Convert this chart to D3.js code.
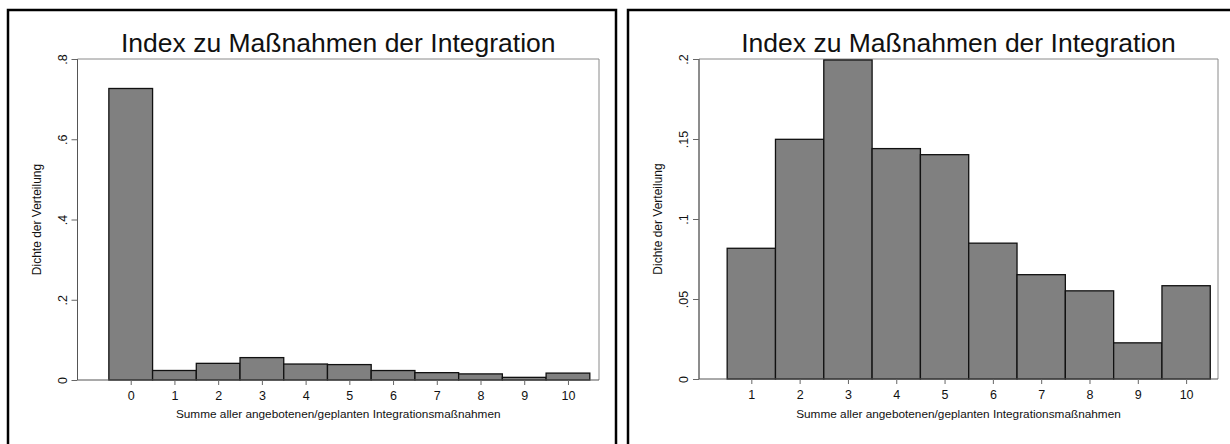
<!DOCTYPE html>
<html><head><meta charset="utf-8">
<script src="https://cdn.jsdelivr.net/npm/d3@7"></script>
<style>body{margin:0;background:#fff}svg{display:block;font-family:"Liberation Sans",Arial,sans-serif}</style>
</head><body><svg id="c" width="1230" height="444"></svg>
<script>
const title = "Index zu Maßnahmen der Integration";
const yTitle = "Dichte der Verteilung";
const xTitle = "Summe aller angebotenen/geplanten Integrationsmaßnahmen";

const leftCats = [0,1,2,3,4,5,6,7,8,9,10];
const leftVals = [0.7265,0.0237,0.0415,0.0558,0.0398,0.0384,0.0236,0.0183,0.0152,0.0066,0.0172];
const leftYTicks = [0,0.2,0.4,0.6,0.8];
const leftYLabels = ["0",".2",".4",".6",".8"];

const rightCats = [1,2,3,4,5,6,7,8,9,10];
const rightVals = [0.0817,0.1498,0.1994,0.1440,0.1402,0.0849,0.0652,0.0551,0.0226,0.0583];
const rightYTicks = [0,0.05,0.1,0.15,0.2];
const rightYLabels = ["0",".05",".1",".15",".2"];

const svg = d3.select("#c");

function panel(o){
  const g = svg.append("g");
  g.append("rect").attr("x",o.fx).attr("y",10).attr("width",o.fw).attr("height",460)
    .attr("fill","none").attr("stroke","#000").attr("stroke-width",2.5);
  const x = d3.scaleLinear().domain(o.xDom).range([o.pl,o.pr]);
  const y = d3.scaleLinear().domain([0,o.yMax]).range([o.pb,o.pt]);
  g.append("path").attr("d",`M${o.pl},${o.pb}V${o.pt}H${o.pr}V${o.pb}`)
    .attr("fill","none").attr("stroke","#8a8a8a").attr("stroke-width",1);
  g.selectAll("rect.bar").data(o.cats).enter().append("rect").attr("class","bar")
    .attr("x",d=>x(d-0.5)).attr("width",d=>x(d+0.5)-x(d-0.5))
    .attr("y",(d,i)=>y(o.vals[i])).attr("height",(d,i)=>y(0)-y(o.vals[i]))
    .attr("fill","#808080").attr("stroke","#111").attr("stroke-width",1.3);
  const xa = g.append("g").attr("transform",`translate(0,${o.pb})`)
    .call(d3.axisBottom(x).tickValues(o.cats).tickFormat(d3.format("d")).tickSize(5).tickPadding(6));
  xa.select(".domain").attr("stroke","#555").attr("d",`M${o.pl},0H${o.pr}`);
  xa.selectAll(".tick line").attr("stroke","#666");
  xa.selectAll("text").attr("font-size",12.5).attr("fill","#111").attr("font-family","Liberation Sans, Arial");
  const ya = g.append("g").attr("transform",`translate(${o.pl},0)`)
    .call(d3.axisLeft(y).tickValues(o.yTicks).tickFormat((d,i)=>o.yLabels[i]).tickSize(6).tickPadding(0));
  ya.select(".domain").attr("stroke","#555").attr("d",`M0,${o.pb}V${o.pt}`);
  ya.selectAll(".tick line").attr("stroke","#666");
  ya.selectAll("text").attr("font-size",12.5).attr("fill","#111").attr("font-family","Liberation Sans, Arial")
    .attr("text-anchor","middle").attr("x",0).attr("dy",0)
    .attr("transform","translate(-11,0) rotate(-90)");
  const cx = (o.pl+o.pr)/2;
  g.append("text").attr("x",cx).attr("y",52).attr("text-anchor","middle")
    .attr("font-size",26.5).attr("fill","#111").text(title);
  g.append("text").attr("x",cx).attr("y",418).attr("text-anchor","middle")
    .attr("font-size",11.8).attr("fill","#111").text(xTitle);
  g.append("text").attr("transform",`translate(${o.pl-37},${(o.pt+o.pb)/2}) rotate(-90)`)
    .attr("text-anchor","middle").attr("font-size",12).attr("fill","#111").text(yTitle);
}

panel({fx:8,fw:608,pl:77.5,pr:599,pt:59,pb:380,xDom:[-1.217,10.71],yMax:0.8,
  cats:leftCats,vals:leftVals,yTicks:leftYTicks,yLabels:leftYLabels});
panel({fx:628,fw:620,pl:699,pr:1218,pt:59,pb:379,xDom:[-0.083,10.66],yMax:0.2,
  cats:rightCats,vals:rightVals,yTicks:rightYTicks,yLabels:rightYLabels});
</script></body></html>
